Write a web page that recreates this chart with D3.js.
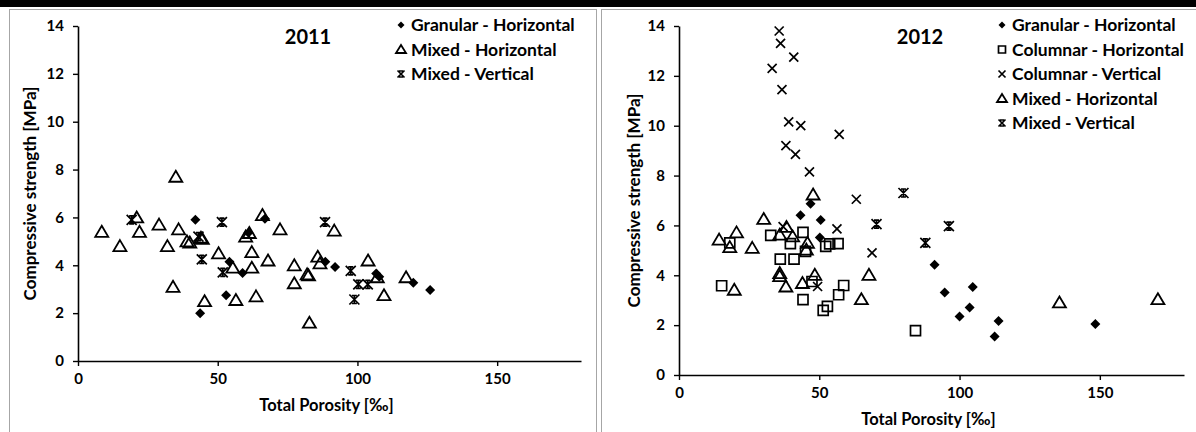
<!DOCTYPE html>
<html>
<head>
<meta charset="utf-8">
<script src="https://cdn.jsdelivr.net/npm/d3@7"></script>
<style>
  body { margin: 0; background: #fff; }
  text { font-family: Lato, "Open Sans", sans-serif; font-weight: bold; fill: #000; }
</style>
</head>
<body>
<svg width="1196" height="432"></svg>
<script>
// tick labels
var xTicks = [0, 50, 100, 150];
var yTicks = [0, 2, 4, 6, 8, 10, 12, 14];

// 2011 series  [porosity, strength]
var granularH2011 = [[42,5.9],[43.7,2.0],[53,2.75],[54.2,4.15],[58.9,3.68],[61,5.36],[66.9,5.95],
  [88.5,4.15],[92,3.93],[106.7,3.66],[107.8,3.52],[120,3.27],[126,2.97]];
var mixedH2011 = [[8.5,5.4],[15,4.8],[21,6.0],[22,5.4],[29,5.7],[32,4.8],[35,7.7],[36,5.5],[34,3.1],
  [39,5.0],[40,4.95],[44,5.15],[44.5,5.1],[45.3,2.5],[50.3,4.5],[55.4,3.9],[56.5,2.55],[60,5.2],
  [61.3,5.35],[62.2,4.55],[62.2,3.9],[63.7,2.7],[66,6.1],[68,4.2],[72.3,5.5],[77.4,4.0],[77.4,3.25],
  [82,3.62],[82.5,3.58],[82.8,1.6],[85.8,4.36],[86.6,4.08],[91.7,5.45],[103.8,4.2],[107.1,3.5],
  [109.5,2.75],[117.4,3.5]];
var mixedV2011 = [[19.2,5.9],[43.1,5.2],[44.3,4.25],[51.5,5.8],[51.8,3.7],[88.4,5.8],[97.6,3.77],
  [98.9,2.57],[100.3,3.2],[103.7,3.2]];

// 2012 series
var granularH2012 = [[46.9,6.87],[43.3,6.41],[50.5,6.22],[50.2,5.52],[91.1,4.42],[94.7,3.31],
  [104.7,3.53],[103.6,2.71],[100,2.35],[113.9,2.17],[112.5,1.54],[148.4,2.05]];
var columnarH2012 = [[15.2,3.58],[18.1,5.3],[32.7,5.6],[36.1,4.65],[39.7,5.27],[41,4.65],[44.2,5.72],
  [45.1,4.96],[44.2,3.02],[47.4,3.75],[51.4,2.59],[52.9,2.75],[52.3,5.16],[53.7,5.26],[56.7,5.27],
  [56.9,3.22],[58.7,3.59],[84.3,1.78]];
var columnarV2012 = [[35.7,13.8],[36.2,13.3],[33.2,12.3],[40.9,12.75],[36.7,11.45],[39.1,10.15],
  [43.4,10.0],[57.1,9.65],[38.1,9.2],[41.5,8.85],[46.5,8.15],[63.2,7.05],[56.3,5.86],[68.8,4.9],
  [49.4,3.55],[37.1,5.95]];
var mixedH2012 = [[14.3,5.43],[20.5,5.72],[19.7,3.42],[18.1,5.13],[26.1,5.1],[30.2,6.26],[35.9,5.63],
  [38.3,5.94],[40.5,5.56],[35.9,4.09],[35.9,3.97],[38.1,3.55],[44,3.69],[45.8,5.3],[45.4,5.03],
  [48.4,4.02],[47.8,7.24],[65,3.04],[67.7,4.02],[135.6,2.91],[170.7,3.04]];
var mixedV2012 = [[70.4,6.05],[80,7.3],[87.8,5.3],[96.2,5.97]];

var shapes = {
  diamond: "M0,-5L5,0L0,5L-5,0Z",
  triangle: "M0,-6L6.5,5L-6.5,5Z",
  square: "M-5,-5H5V5H-5Z",
  cross: "M-4.5,-4.5L4.5,4.5M-4.5,4.5L4.5,-4.5",
  star: "M-5,-5L5,5M-5,5L5,-5M-2.5,-4H2.5M-2.5,4H2.5M0,-4V4"
};
var small = {
  diamond: "M0,-3.5L3.5,0L0,3.5L-3.5,0Z",
  triangle: "M0,-4.5L5,3.5L-5,3.5Z",
  square: "M-3.5,-3.5H3.5V3.5H-3.5Z",
  cross: "M-3.5,-3.5L3.5,3.5M-3.5,3.5L3.5,-3.5",
  star: "M-3.5,-3.5L3.5,3.5M-3.5,3.5L3.5,-3.5M-2,-3H2M-2,3H2"
};

function styleMark(sel, kind) {
  if (kind == "diamond") sel.attr("fill", "#000").attr("stroke", "none");
  else sel.attr("fill", "none").attr("stroke", "#000")
    .attr("stroke-width", kind == "triangle" ? 1.8 : 1.7);
}

function main() {
  var svg = d3.select("svg");

  // frames
  svg.append("rect").attr("x", 0).attr("y", 0).attr("width", 1196).attr("height", 7).attr("fill", "#000");
  svg.append("rect").attr("x", 9.5).attr("y", 9.5).attr("width", 587).attr("height", 440)
    .attr("fill", "none").attr("stroke", "#a6a6a6");
  svg.append("rect").attr("x", 601.5).attr("y", 9.5).attr("width", 600).attr("height", 440)
    .attr("fill", "none").attr("stroke", "#a6a6a6");

  drawPanel(svg, {
    left: 78, right: 581, top: 26, bottom: 361,
    title: "2011", titleX: 308,
    ytitleX: 30,
    legendX: 401, legendY: 25,
    series: [
      {name: "Granular - Horizontal", kind: "diamond", data: granularH2011},
      {name: "Mixed - Horizontal", kind: "triangle", data: mixedH2011},
      {name: "Mixed - Vertical", kind: "star", data: mixedV2011}
    ]
  });
  drawPanel(svg, {
    left: 679, right: 1184, top: 26, bottom: 375,
    title: "2012", titleX: 920,
    ytitleX: 634,
    legendX: 1002, legendY: 25,
    series: [
      {name: "Granular - Horizontal", kind: "diamond", data: granularH2012},
      {name: "Columnar - Horizontal", kind: "square", data: columnarH2012},
      {name: "Columnar - Vertical", kind: "cross", data: columnarV2012},
      {name: "Mixed - Horizontal", kind: "triangle", data: mixedH2012},
      {name: "Mixed - Vertical", kind: "star", data: mixedV2012}
    ]
  });
}

function drawPanel(svg, c) {
  var x = d3.scaleLinear().domain([0, 180]).range([c.left, c.right]);
  var y = d3.scaleLinear().domain([0, 14]).range([c.bottom, c.top]);

  var xAxis = svg.append("g")
    .attr("transform", "translate(0," + c.bottom + ")")
    .call(d3.axisBottom(x).tickValues(xTicks).tickSize(5).tickSizeOuter(0).tickPadding(7));
  var yAxis = svg.append("g")
    .attr("transform", "translate(" + c.left + ",0)")
    .call(d3.axisLeft(y).tickValues(yTicks).tickSize(5).tickSizeOuter(0).tickPadding(9));
  [xAxis, yAxis].forEach(function(a) {
    a.select(".domain").attr("stroke", "#000").attr("stroke-width", 1.6);
    a.selectAll(".tick line").attr("stroke", "#000").attr("stroke-width", 1.4);
    a.selectAll(".tick text").style("font-size", "15px").attr("fill", "#000");
  });

  svg.append("text")
    .attr("x", (c.left + c.right) / 2 - 3).attr("y", c.bottom + 50)
    .attr("text-anchor", "middle").style("font-size", "16.5px")
    .text("Total Porosity [‰]");
  svg.append("text")
    .attr("transform", "translate(" + c.ytitleX + "," + ((c.top + c.bottom) / 2) + ") rotate(-90)")
    .attr("text-anchor", "middle").attr("dy", "0.35em").style("font-size", "17px")
    .text("Compressive strength [MPa]");
  svg.append("text")
    .attr("x", c.titleX).attr("y", 44)
    .attr("text-anchor", "middle").style("font-size", "20px")
    .text(c.title);

  c.series.forEach(function(s, i) {
    var marks = svg.append("g").selectAll("path")
      .data(s.data)
      .enter()
      .append("path")
      .attr("d", shapes[s.kind])
      .attr("transform", function(d) { return "translate(" + x(d[0]) + "," + y(d[1]) + ")"; });
    styleMark(marks, s.kind);

    var row = svg.append("g")
      .attr("transform", "translate(" + c.legendX + "," + (c.legendY + i * 24.5) + ")");
    var m = row.append("path").attr("d", small[s.kind]);
    styleMark(m, s.kind);
    row.append("text").attr("x", 10).attr("dy", "0.35em").style("font-size", "17.5px").text(s.name);
  });
}

main();
</script>
</body>
</html>
